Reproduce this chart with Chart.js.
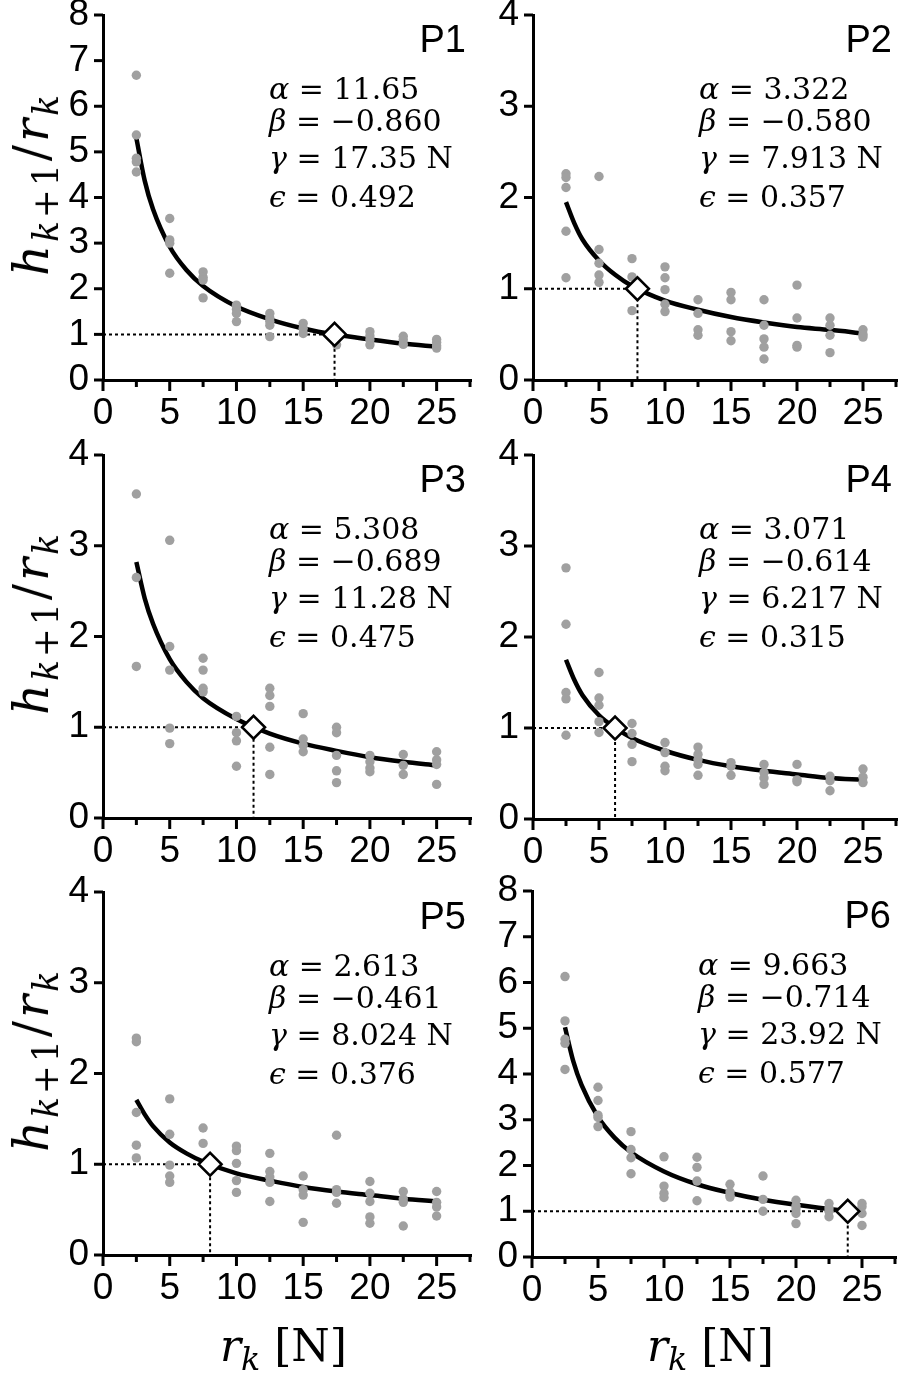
<!DOCTYPE html>
<html>
<head>
<meta charset="utf-8">
<script src="https://cdn.jsdelivr.net/npm/chart.js@4.4.1/dist/chart.umd.min.js"></script>
<style>
  html, body { margin: 0; padding: 0; background: #fff; }
  #page { position: relative; width: 900px; height: 1380px; overflow: hidden; background: #fff; }
  .box { position: absolute; }
  .lbl { position: absolute; font-family: "Liberation Sans", Arial, sans-serif; font-size: 38px; line-height: 1; white-space: nowrap; color: #000; }
  .par { position: absolute; font-family: "DejaVu Serif", serif; font-size: 30px; line-height: 1; white-space: nowrap; color: #000; }
  .math { position: absolute; font-family: "DejaVu Serif", serif; line-height: 1; white-space: nowrap; color: #000; }
  .sb { font-size: 0.72em; position: relative; top: 0.28em; }
</style>
</head>
<body>
<div id="page"></div>
<script>
// contact force levels (N) and the measured ratios at each level
const forces = [2.5, 5, 7.5, 10, 12.5, 15, 17.5, 20, 22.5, 25];

const p1Ratios = [[6.68, 5.37, 4.86, 4.78, 4.56], [3.54, 3.07, 3.00, 2.34], [2.37, 2.25, 2.19, 1.80],
  [1.64, 1.55, 1.46, 1.28], [1.46, 1.36, 1.28, 1.20, 0.95], [1.24, 1.13, 1.02], [0.95, 0.77],
  [1.06, 0.97, 0.88, 0.77], [0.96, 0.88, 0.78], [0.89, 0.82, 0.75, 0.70]];
const p2Ratios = [[2.26, 2.22, 2.11, 1.63, 1.12], [2.23, 1.43, 1.28, 1.15, 1.07], [1.33, 1.13, 0.76],
  [1.24, 1.12, 0.99, 0.83, 0.75], [0.88, 0.73, 0.55, 0.49], [0.96, 0.88, 0.53, 0.43],
  [0.88, 0.60, 0.45, 0.36, 0.23], [1.04, 0.68, 0.38, 0.36], [0.68, 0.60, 0.49, 0.30], [0.55, 0.50, 0.47]];
const p3Ratios = [[3.57, 2.65, 1.67], [3.06, 1.89, 1.63, 0.99, 0.82], [1.76, 1.63, 1.43, 1.39],
  [1.12, 0.94, 0.85, 0.57], [1.43, 1.35, 1.23, 0.78, 0.48], [1.15, 0.87, 0.80, 0.73],
  [1.00, 0.94, 0.69, 0.52, 0.39], [0.69, 0.62, 0.55, 0.51], [0.70, 0.58, 0.48], [0.73, 0.64, 0.59, 0.37]];
const p4Ratios = [[2.76, 2.14, 1.39, 1.32, 0.92], [1.61, 1.33, 1.25, 1.07, 0.95], [1.05, 0.94, 0.82, 0.63],
  [0.84, 0.73, 0.58, 0.53], [0.79, 0.71, 0.65, 0.60, 0.48], [0.62, 0.58, 0.48], [0.60, 0.51, 0.45, 0.38],
  [0.60, 0.43, 0.41], [0.47, 0.42, 0.31], [0.55, 0.46, 0.40]];
const p5Ratios = [[2.39, 2.35, 1.57, 1.21, 1.07], [1.72, 1.33, 0.99, 0.87, 0.80], [1.40, 1.23],
  [1.20, 1.15, 1.01, 0.82, 0.69], [1.12, 0.92, 0.86, 0.80, 0.59], [0.87, 0.72, 0.66, 0.36],
  [1.32, 0.72, 0.69, 0.57], [0.81, 0.68, 0.59, 0.42, 0.35], [0.70, 0.62, 0.58, 0.32], [0.70, 0.58, 0.53, 0.43]];
const p6Ratios = [[6.13, 5.16, 4.76, 4.67, 4.10], [3.71, 3.42, 3.10, 3.05, 2.85], [2.74, 2.35, 2.17, 1.82],
  [2.19, 1.55, 1.39, 1.30], [2.18, 1.96, 1.66, 1.23], [1.59, 1.42, 1.35, 1.31], [1.77, 1.26, 1.00],
  [1.24, 1.12, 1.05, 0.95, 0.73], [1.17, 1.07, 1.00, 0.88], [1.17, 1.10, 0.95, 0.69]];

// fitted curve at these forces
const curveForces = [2.5, 3.125, 3.75, 5, 6.25, 7.5, 10, 12.5, 15, 17.5, 20, 22.5, 25];
const p1Curve = [5.30, 4.37, 3.74, 2.92, 2.41, 2.06, 1.61, 1.33, 1.13, 0.99, 0.89, 0.80, 0.73];
const p2Curve = [1.95, 1.72, 1.54, 1.31, 1.15, 1.03, 0.87, 0.77, 0.69, 0.63, 0.58, 0.55, 0.51];
const p3Curve = [2.82, 2.42, 2.14, 1.75, 1.50, 1.32, 1.09, 0.93, 0.82, 0.74, 0.67, 0.62, 0.58];
const p4Curve = [1.75, 1.53, 1.36, 1.14, 1.00, 0.89, 0.75, 0.65, 0.58, 0.53, 0.49, 0.45, 0.43];
const p5Curve = [1.71, 1.55, 1.42, 1.24, 1.12, 1.03, 0.90, 0.82, 0.75, 0.70, 0.66, 0.62, 0.59];
const p6Curve = [5.02, 4.28, 3.76, 3.06, 2.61, 2.29, 1.87, 1.59, 1.40, 1.25, 1.14, 1.05, 0.97];

const panelNames = ['P1', 'P2', 'P3', 'P4', 'P5', 'P6'];
const alphas = ['11.65', '3.322', '5.308', '3.071', '2.613', '9.663'];
const betas = ['−0.860', '−0.580', '−0.689', '−0.614', '−0.461', '−0.714'];
const gammas = [17.35, 7.913, 11.28, 6.217, 8.024, 23.92];
const epsilons = ['0.492', '0.357', '0.475', '0.315', '0.376', '0.577'];
const yMaxes = [8, 4, 4, 4, 4, 8];
const xTickLabels = [0, 5, 10, 15, 20, 25];

const allRatios = [p1Ratios, p2Ratios, p3Ratios, p4Ratios, p5Ratios, p6Ratios];
const allCurves = [p1Curve, p2Curve, p3Curve, p4Curve, p5Curve, p6Curve];

// plot areas on the page
const panelBoxes = [
  { l: 103, t: 15, r: 470, b: 380 },
  { l: 533, t: 15, r: 896, b: 380 },
  { l: 103, t: 455, r: 470, b: 818 },
  { l: 533, t: 455, r: 896, b: 819 },
  { l: 103, t: 892, r: 470, b: 1255 },
  { l: 532, t: 891, r: 895, b: 1257 }
];

const PAD_L = 100, PAD_T = 40, PAD_R = 40, PAD_B = 80;
const GRAY = '#a0a0a0';
const tickFont = { family: '"Liberation Sans", Arial, sans-serif', size: 37 };
const hiddenTicks = {
  drawOnChartArea: false, drawTicks: true, lineWidth: 3, color: 'rgba(0,0,0,0)'
};
const page = document.getElementById('page');

// outward tick marks, long at labelled x ticks and short at the half steps
const axisTicks = {
  id: 'axisTicks',
  afterDraw(chart) {
    const { ctx, chartArea, scales } = chart;
    ctx.save();
    ctx.strokeStyle = '#000';
    ctx.lineWidth = 3;
    scales.x.ticks.forEach(t => {
      const px = scales.x.getPixelForValue(t.value);
      const len = xTickLabels.includes(t.value) ? 11 : 7;
      ctx.beginPath();
      ctx.moveTo(px, chartArea.bottom);
      ctx.lineTo(px, chartArea.bottom + len);
      ctx.stroke();
    });
    scales.y.ticks.forEach(t => {
      const py = scales.y.getPixelForValue(t.value);
      ctx.beginPath();
      ctx.moveTo(chartArea.left, py);
      ctx.lineTo(chartArea.left - 9, py);
      ctx.stroke();
    });
    ctx.restore();
  }
};

function addText(cls, html, left, top, extra) {
  const el = document.createElement('div');
  el.className = cls;
  el.innerHTML = html;
  el.style.left = left + 'px';
  el.style.top = top + 'px';
  if (extra) Object.assign(el.style, extra);
  page.appendChild(el);
  return el;
}

function makePanel(i) {
  const box = panelBoxes[i];
  const wrap = document.createElement('div');
  wrap.className = 'box';
  wrap.style.left = (box.l - PAD_L) + 'px';
  wrap.style.top = (box.t - PAD_T) + 'px';
  wrap.style.width = (box.r - box.l + PAD_L + PAD_R) + 'px';
  wrap.style.height = (box.b - box.t + PAD_T + PAD_B) + 'px';
  const canvas = document.createElement('canvas');
  wrap.appendChild(canvas);
  page.appendChild(wrap);

  const g = gammas[i];
  const pts = [];
  allRatios[i].forEach((vals, k) => vals.forEach(v => pts.push({ x: forces[k], y: v })));

  new Chart(canvas, {
    type: 'scatter',
    data: {
      datasets: [
        {
          type: 'line',
          data: [{ x: 0, y: 1 }, { x: g, y: 1 }, { x: g, y: 0 }],
          borderColor: '#000',
          borderWidth: 2,
          borderDash: [3, 3],
          pointRadius: 0,
          tension: 0,
          order: 4
        },
        {
          type: 'line',
          data: curveForces.map((x, j) => ({ x: x, y: allCurves[i][j] })),
          borderColor: '#000',
          borderWidth: 4.5,
          cubicInterpolationMode: 'monotone',
          pointRadius: 0,
          order: 3
        },
        {
          data: pts,
          backgroundColor: GRAY,
          borderWidth: 0,
          pointRadius: 4.7,
          order: 2
        },
        {
          data: [{ x: g, y: 1 }],
          pointStyle: 'rectRot',
          pointRadius: 11.5,
          backgroundColor: '#fff',
          borderColor: '#000',
          borderWidth: 2.5,
          order: 1
        }
      ]
    },
    options: {
      responsive: true,
      maintainAspectRatio: false,
      animation: false,
      layout: { padding: { left: 0, top: PAD_T, right: PAD_R, bottom: 0 } },
      plugins: { legend: { display: false }, tooltip: { enabled: false } },
      scales: {
        x: {
          type: 'linear',
          min: 0,
          max: 27.5,
          afterFit: s => { s.height = PAD_B; },
          border: { display: true, width: 3, color: '#000' },
          grid: Object.assign({ tickLength: 11 }, hiddenTicks),
          ticks: {
            stepSize: 2.5,
            autoSkip: false,
            maxRotation: 0,
            padding: 1,
            color: '#000',
            font: tickFont,
            callback: v => (xTickLabels.includes(v) ? String(v) : '')
          }
        },
        y: {
          min: 0,
          max: yMaxes[i],
          afterFit: s => { s.width = PAD_L; },
          border: { display: true, width: 3, color: '#000' },
          grid: Object.assign({ tickLength: 9 }, hiddenTicks),
          ticks: { stepSize: 1, autoSkip: false, padding: 5, color: '#000', font: tickFont }
        }
      }
    },
    plugins: [axisTicks]
  });

  // panel name and fit parameters
  addText('lbl', panelNames[i], box.r - 4, box.t + 5, { transform: 'translateX(-100%)' });
  const px = box.l + 166;
  addText('par', '<i>α</i> = ' + alphas[i], px, box.t + 59);
  addText('par', '<i>β</i> = ' + betas[i], px, box.t + 91);
  addText('par', '<i>γ</i> = ' + g + ' N', px, box.t + 128);
  addText('par', '<i>ϵ</i> = ' + epsilons[i], px, box.t + 167);

  // axis titles: y on the left column, x on the bottom row
  if (i % 2 === 0) {
    addText('math', '<i>h</i><span class="sb"><i>k</i>+1</span>/<i>r</i><span class="sb"><i>k</i></span>',
      31, (box.t + box.b) / 2 - 14,
      { fontSize: '48px', letterSpacing: '3px', transform: 'translate(-50%, -50%) rotate(-90deg)' });
  }
  if (i >= 4) {
    addText('math', '<i>r</i><span class="sb"><i>k</i></span> [N]',
      (box.l + box.r) / 2 - 3, 1324,
      { fontSize: '44px', transform: 'translateX(-50%)' });
  }
}

for (let i = 0; i < 6; i++) makePanel(i);
</script>
</body>
</html>
